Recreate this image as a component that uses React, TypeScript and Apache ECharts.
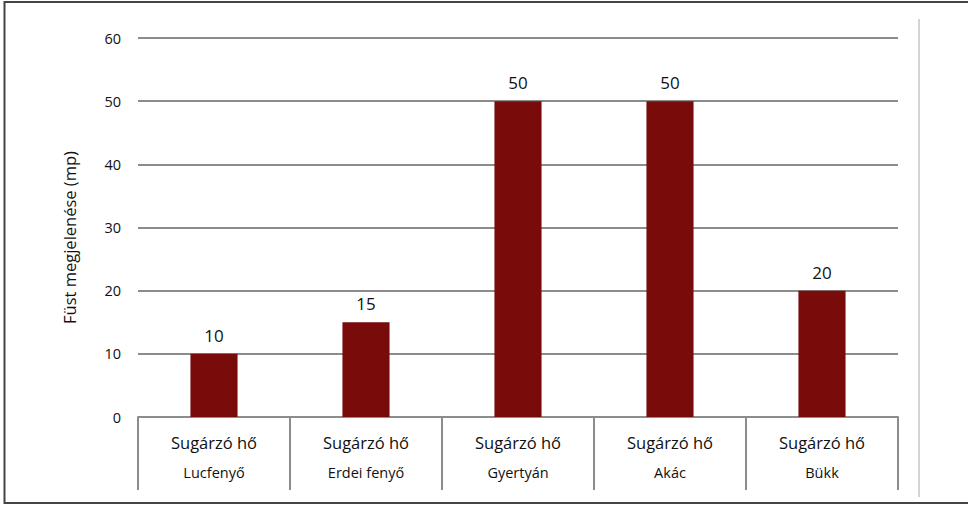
import React, { useEffect, useRef } from "react";
import * as echarts from "echarts";

const mainLabels = ["Sugárzó hő", "Sugárzó hő", "Sugárzó hő", "Sugárzó hő", "Sugárzó hő"];
const woodTypes = ["Lucfenyő", "Erdei fenyő", "Gyertyán", "Akác", "Bükk"];
const smokeSeconds = [10, 15, 50, 50, 20];
const yAxisTitle = "Füst megjelenése (mp)";

export default function App() {
  const ref = useRef<HTMLDivElement>(null);
  useEffect(() => {
    if (!ref.current) return;
    const chart = echarts.init(ref.current, null, { renderer: "svg" });
    const font = "'Open Sans', 'Noto Sans', sans-serif";
    chart.setOption({
      animation: false,
      backgroundColor: "#ffffff",
      textStyle: { fontFamily: font },
      grid: { left: 138, right: 70, top: 38, bottom: 88, containLabel: false },
      xAxis: {
        type: "category",
        data: woodTypes.map((w, i) => mainLabels[i] + "|" + w),
        axisLine: { show: true, lineStyle: { color: "#8c8c8c", width: 2 } },
        axisTick: { show: true, interval: 0, length: 73, lineStyle: { color: "#8c8c8c", width: 2 } },
        axisLabel: {
          interval: 0,
          margin: 10,
          formatter: (v: string) => {
            const [a, b] = v.split("|");
            return `{a|${a}}\n{b|${b}}`;
          },
          rich: {
            a: { fontSize: 16.5, lineHeight: 30, color: "#111", fontFamily: font },
            b: { fontSize: 14.5, lineHeight: 30, color: "#111", fontFamily: font },
          },
        },
      },
      yAxis: {
        type: "value",
        min: 0,
        max: 60,
        interval: 10,
        name: yAxisTitle,
        nameLocation: "middle",
        nameRotate: 90,
        nameGap: 60,
        nameTextStyle: { fontSize: 16.5, color: "#111", fontFamily: font, padding: [0, 0, 0, -20] },
        axisLine: { show: false },
        axisTick: { show: false },
        axisLabel: { fontSize: 14.5, color: "#111", margin: 17, fontFamily: font },
        splitLine: { lineStyle: { color: "#8c8c8c", width: 2 } },
      },
      series: [
        {
          type: "bar",
          data: smokeSeconds,
          barWidth: "31%",
          itemStyle: { color: "#7a0b0b" },
          label: {
            show: true,
            position: "top",
            distance: 10,
            fontSize: 17,
            color: "#111",
            fontFamily: font,
          },
        },
      ],
      graphic: [
        {
          type: "rect",
          shape: { x: 4.5, y: 2, width: 980, height: 501 },
          style: { fill: "none", stroke: "#444", lineWidth: 2 },
          silent: true,
        },
        {
          type: "line",
          shape: { x1: 919, y1: 19, x2: 919, y2: 497 },
          style: { stroke: "#aaaaaa", lineWidth: 1 },
          silent: true,
        },
      ],
    });
    return () => chart.dispose();
  }, []);
  return (
    <div
      ref={ref}
      style={{ position: "absolute", left: 0, top: 0, width: 968, height: 505 }}
    />
  );
}
